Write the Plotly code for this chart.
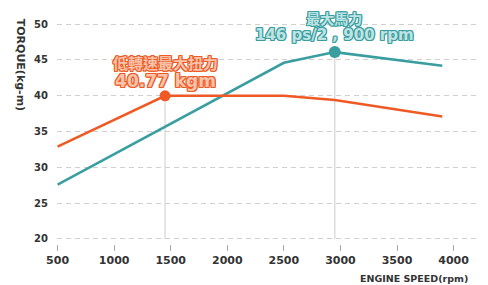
import plotly.graph_objects as go

# ---- data ----
rpm_torque = [500, 1450, 2500, 2950, 3900]
torque = [32.9, 40.0, 40.0, 39.4, 37.1]
rpm_power = [500, 2500, 2950, 3900]
power = [27.6, 44.6, 46.1, 44.2]
torque_peak_rpm = [1450]
torque_peak = [40.0]
power_peak_rpm = [2950]
power_peak = [46.1]
x_ticks = [500, 1000, 1500, 2000, 2500, 3000, 3500, 4000]
y_ticks = [20, 25, 30, 35, 40, 45, 50]
torque_label_1 = "低轉速最大扭力"
torque_label_2 = "40.77 kgm"
power_label_1 = "最大馬力"
power_label_2 = "146 ps/2 , 900 rpm"

ORANGE = "#EF5A24"
TEAL = "#3A9EA0"
GRID = "#cfcfcf"
Y_FLOOR = 20

fig = go.Figure()

# vertical guide lines from peaks down to floor
fig.add_trace(go.Scatter(x=[torque_peak_rpm[0], torque_peak_rpm[0]], y=[Y_FLOOR, torque_peak[0]],
                         mode="lines", line=dict(color="#d4d4d4", width=1.2), hoverinfo="skip"))
fig.add_trace(go.Scatter(x=[power_peak_rpm[0], power_peak_rpm[0]], y=[Y_FLOOR, power_peak[0]],
                         mode="lines", line=dict(color="#d4d4d4", width=1.2), hoverinfo="skip"))

fig.add_trace(go.Scatter(x=rpm_power, y=power, mode="lines",
                         line=dict(color=TEAL, width=2.6)))
fig.add_trace(go.Scatter(x=rpm_torque, y=torque, mode="lines",
                         line=dict(color=ORANGE, width=2.6)))
fig.add_trace(go.Scatter(x=torque_peak_rpm, y=torque_peak, mode="markers",
                         marker=dict(color=ORANGE, size=11)))
fig.add_trace(go.Scatter(x=power_peak_rpm, y=power_peak, mode="markers",
                         marker=dict(color=TEAL, size=12)))


def outline(c):
    return f"1px 0 0 {c}, -1px 0 0 {c}, 0 1px 0 {c}, 0 -1px 0 {c}, 1px 1px 0 {c}, -1px -1px 0 {c}, 1px -1px 0 {c}, -1px 1px 0 {c}"


CJK = "Noto Sans CJK TC"
LAT = "DejaVu Sans"


def two_line(l1, s1, l2, s2):
    return (f"<span style='font-family:{CJK};font-size:{s1}px'>{l1}</span><br>"
            f"<span style='font-family:{LAT};font-size:{s2}px'>{l2}</span>")


fig.add_annotation(xref="x", yref="y", x=torque_peak_rpm[0], y=43.45, showarrow=False,
                   xanchor="center", yanchor="middle",
                   text=two_line(torque_label_1, 15, torque_label_2, 17),
                   font=dict(family=LAT, size=14, color="#f9c3ab", weight="bold", shadow=outline(ORANGE)))
fig.add_annotation(xref="x", yref="y", x=power_peak_rpm[0], y=49.72, showarrow=False,
                   xanchor="center", yanchor="middle",
                   text=two_line(power_label_1, 14, power_label_2, 15),
                   font=dict(family=LAT, size=12, color="#bfe3e3", weight="bold", shadow=outline(TEAL)))

fig.add_annotation(xref="paper", yref="paper", x=-0.086, y=0.79, text="TORQUE(kg-m)",
                   textangle=90, showarrow=False, xanchor="center", yanchor="middle",
                   font=dict(family=LAT, size=11, color="#333333", weight="bold"))
fig.add_annotation(xref="paper", yref="paper", x=0.958, y=-0.15, text="ENGINE SPEED(rpm)",
                   showarrow=False, xanchor="right", yanchor="middle",
                   font=dict(family=LAT, size=9.5, color="#333333", weight="bold"))

# page body has an 8px default margin, so the figure is offset by 8px
fig.update_layout(
    width=480, height=277,
    margin=dict(l=49, r=0, t=9, b=41),
    paper_bgcolor="white", plot_bgcolor="white",
    showlegend=False,
)
fig.update_xaxes(range=[495, 4304], tickvals=x_ticks, showgrid=False, zeroline=False, showline=False,
                 ticks="outside", ticklen=6, tickcolor="#aaaaaa", tickwidth=1,
                 tickfont=dict(family=LAT, size=11, color="#333333", weight="bold"))
fig.update_yaxes(range=[19.3, 51], tickvals=y_ticks, showgrid=True, gridcolor=GRID, gridwidth=1,
                 griddash="5px,4px", zeroline=False, showline=False,
                 ticks="outside", ticklen=6, tickcolor="rgba(0,0,0,0)",
                 tickfont=dict(family=LAT, size=10, color="#333333", weight="bold"))

fig.write_html("out.html")
